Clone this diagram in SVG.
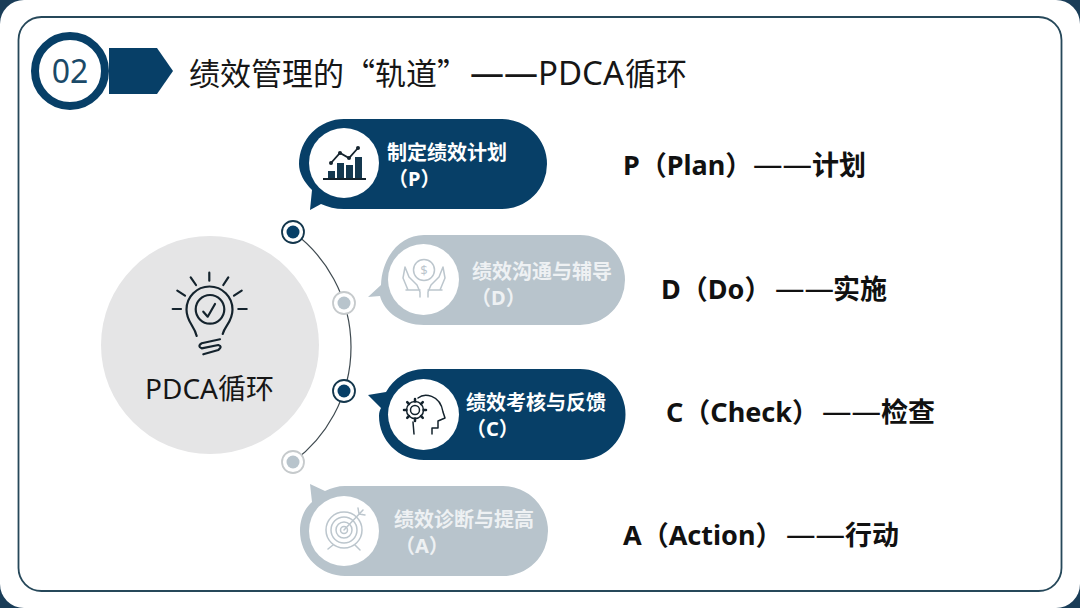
<svg xmlns="http://www.w3.org/2000/svg" width="1080" height="608" viewBox="0 0 1080 608">
<style>
text{font-family:"Noto Sans","Noto Sans CJK SC",sans-serif}
.cjk{font-family:"Noto Sans CJK SC","Noto Sans",sans-serif}
.dark{fill:#073f67}.light{fill:#b8c4cc}
.wt{fill:#fff;font-size:20px;font-weight:700}
.lt{fill:#eef1f3;font-size:20px;font-weight:700}
.side{fill:#111;font-size:27px;font-weight:700}
.dash{font-size:29.500px;font-weight:400}
.ic{fill:none;stroke:#14232d;stroke-width:2.200;stroke-linecap:round;stroke-linejoin:round}
.il{fill:none;stroke:#bcc6cd;stroke-width:1.500;stroke-linecap:round;stroke-linejoin:round}
.disc{fill:#fff}
</style>
<rect width="1080" height="608" fill="#1a3d58"/>
<rect x="0" y="0" width="1080" height="608" rx="24" fill="#fff"/>
<rect x="18.500" y="17" width="1043" height="574" rx="23" fill="#fff" stroke="#26485a" stroke-width="1.800"/>
<g id="badge">
<circle cx="70" cy="71" r="35" fill="#fff" stroke="#073f67" stroke-width="8"/>
<text x="70" y="83" font-size="32" fill="#1b4a68" text-anchor="middle">02</text>
<path class="dark" d="M109 48H157L173 71L157 94H109Z"/>
</g>
<text id="title" x="189" y="85" font-size="31" fill="#161616" class="cjk">绩效管理的“轨道”<tspan x="470" font-size="34" style="font-family:'Noto Sans',sans-serif">——</tspan><tspan x="538" font-size="33" style="font-family:'Noto Sans',sans-serif">PDCA</tspan><tspan x="625">循环</tspan></text>
<g id="connectors">
<path d="M293 232A143 143 0 0 1 293 462" fill="none" stroke="#3f4a50" stroke-width="1.200"/>
</g>
<g id="center">
<circle cx="210" cy="345" r="109" fill="#e5e5e6"/>
<g class="ic">
<path d="M209.300 272.700V280.700M190.700 277.300L196 285M228.300 277.300L223.300 285M177.300 290.700L185 295.700M241.700 290.700L234 295.700M172.700 309H181M238.300 309H246.700"/>
<path d="M196.700 336C194 325 186.500 322 186.500 309.500A23 23 0 0 1 232.500 309.500C232.500 322 225 325 222.700 334"/>
<circle cx="210" cy="309.300" r="14.300"/>
<path d="M203.300 311.700L207.700 316.700L215 304"/>
<path d="M220 339.300L201.700 343.300Q197 346 201.700 348.300L218.300 345Q223 346.700 218.300 350L203.300 354.300"/>
</g>
<text x="209.500" y="399" font-size="28" fill="#161616" text-anchor="middle">PDCA循环</text>
</g>
<g id="step-p">
<path class="dark" d="M344 119H502A45 45 0 0 1 502 209H344C335 209 328 207 321 204L310 210L312 190C304 182 299 173 299 164A45 45 0 0 1 344 119Z"/>
<circle class="disc" cx="344" cy="163" r="35"/>
<path d="M323 179H366" fill="none" stroke="#14232d" stroke-width="1.800"/>
<path fill="#14384f" d="M328 171H335V178H328ZM337 163H344V178H337ZM346 165H353V178H346ZM355 157H362V178H355Z"/>
<path d="M331 163L340 153L349 158L358 148" fill="none" stroke="#14232d" stroke-width="1.800"/>
<circle cx="331" cy="163" r="2" fill="#14232d"/><circle cx="340" cy="153" r="2" fill="#14232d"/><circle cx="349" cy="158" r="2" fill="#14232d"/><circle cx="358" cy="148" r="2" fill="#14232d"/>
<text class="wt" x="387" y="160">制定绩效计划<tspan x="388" y="186">（P）</tspan></text>
</g>
<g id="step-d">
<path class="light" d="M424 235H580A45 45 0 0 1 580 325H424C402 325 384 312 380 296L368 297L381 285C382 257 400 235 424 235Z"/>
<circle class="disc" cx="423.500" cy="279.500" r="35.500"/>
<g class="il">
<circle cx="424" cy="270" r="10.500"/>
<path d="M408 290L403 278L405 267L409 277L417 285L420 292V297M440 290L445 278L443 267L439 277L431 285L428 292V297M406 290H420M428 290H442"/>
</g>
<text x="424" y="275" font-size="13" fill="#bcc6cd" text-anchor="middle">$</text>
<text class="lt" x="472" y="279">绩效沟通与辅导<tspan x="471" y="305">（D）</tspan></text>
</g>
<g id="step-c">
<path class="dark" d="M424 369H580A45.500 45.500 0 0 1 580 460H424C398 460 379 440 379 416C379 412 380 410 381 408L368 395L386 392C394 378 408 369 424 369Z"/>
<circle class="disc" cx="423.500" cy="414.500" r="35.500"/>
<g class="ic" style="stroke-width:1.500">
<circle cx="415" cy="410" r="4.500"/>
<circle cx="415" cy="410" r="8.500"/>
<path d="M423.500 410H426M421 404L422.800 402.200M415 401.500V399M409 404L407.200 402.200M406.500 410H404M409 416L407.200 417.800M415 418.500V421M421 416L422.800 417.800" stroke-width="2.500"/>
<path d="M418 398C424 393 440 394 443 412L445 418L438 421V428H432V434M413 422L414 434"/>
</g>
<text class="wt" x="466" y="410">绩效考核与反馈<tspan x="466" y="436">（C）</tspan></text>
</g>
<g id="step-a">
<path class="light" d="M345 486H503A45 45 0 0 1 503 576H345A45 45 0 0 1 300 531C300 518 305 508 312 502L310 484L325 491C331 488 338 486 345 486Z"/>
<circle class="disc" cx="344" cy="531" r="35"/>
<g class="il">
<circle cx="344" cy="530" r="18"/><circle cx="344" cy="530" r="13"/><circle cx="344" cy="530" r="8"/><circle cx="344" cy="530" r="3.500"/>
<path d="M344 530L363 510M358 508L359 514L365 515M333 545L328 549M355 545L360 550"/>
</g>
<text class="lt" x="394" y="527">绩效诊断与提高<tspan x="395" y="553">（A）</tspan></text>
</g>
<g id="dots">
<circle cx="293" cy="232" r="11" fill="#fff" stroke="#13364c" stroke-width="1.800"/><circle cx="293" cy="232" r="6.500" fill="#073f67"/>
<circle cx="344" cy="303" r="11" fill="#fff" stroke="#c6cacc" stroke-width="1.800"/><circle cx="344" cy="303" r="6.500" fill="#b8c4cc"/>
<circle cx="344" cy="391" r="11" fill="#fff" stroke="#13364c" stroke-width="1.800"/><circle cx="344" cy="391" r="6.500" fill="#073f67"/>
<circle cx="293" cy="462" r="11" fill="#fff" stroke="#c6cacc" stroke-width="1.800"/><circle cx="293" cy="462" r="6.500" fill="#b8c4cc"/>
</g>
<text class="side" x="623" y="175">P（Plan）<tspan class="dash" x="753">——</tspan><tspan x="812">计划</tspan></text>
<text class="side" x="661" y="299">D（Do）<tspan class="dash" x="775">——</tspan><tspan x="833">实施</tspan></text>
<text class="side" x="666" y="422">C（Check）<tspan class="dash" x="822">——</tspan><tspan x="881">检查</tspan></text>
<text class="side" x="623" y="545">A（Action）<tspan class="dash" x="786">——</tspan><tspan x="845">行动</tspan></text>
</svg>
